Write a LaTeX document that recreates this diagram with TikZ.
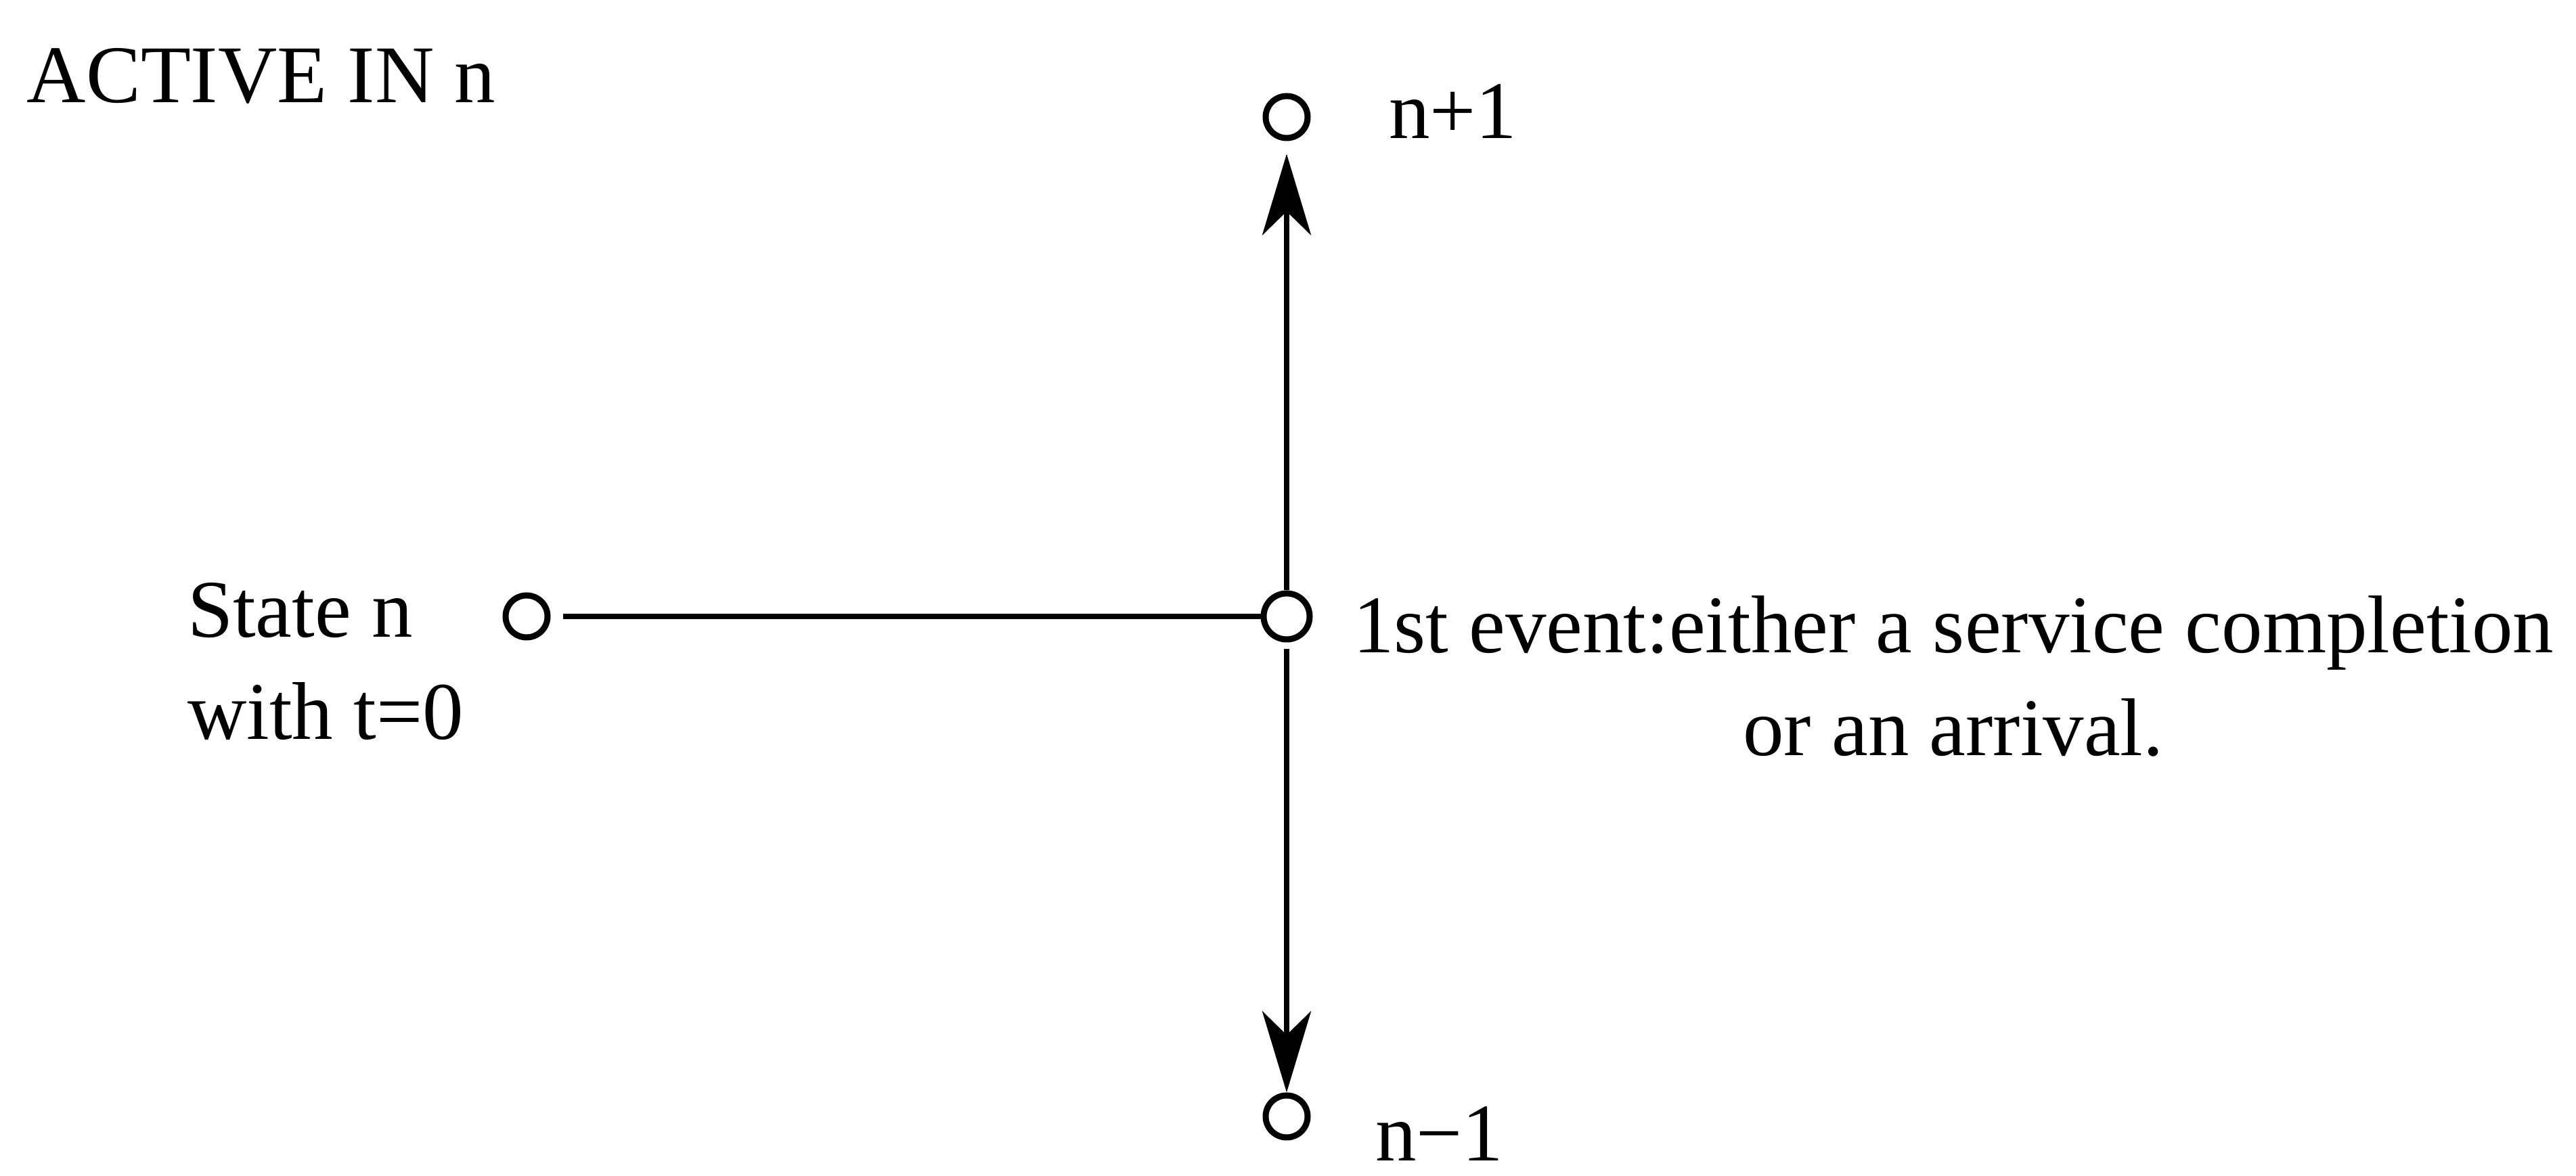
\documentclass[tikz,border=0pt]{standalone}
\usepackage{fontspec}
\setmainfont{Liberation Serif}
\usetikzlibrary{arrows.meta,positioning}

\tikzset{
  state/.style={circle, draw, line width=0.9pt, inner sep=0pt, minimum size=6.2pt},
  txt/.style={inner sep=0pt, anchor=base west, font=\fontsize{12.1}{15}\selectfont},
  move/.style={-{Stealth[length=12pt,width=7.2pt,inset=3.5pt]}, line width=0.8pt},
}

\begin{document}
\begin{tikzpicture}[x=1pt,y=1pt]
    \useasboundingbox (0,0) rectangle (380.6,173.8);

    % Title
    \node[txt] (title) at (3.8,158.6) {ACTIVE IN n};

    % States
    \node[state] (start) at (77.8,82.7) {};
    \node[state, minimum size=6.8pt] (first) at (190.1,82.7) {};
    \node[state] (up) at (190.1,156.5) {};
    \node[state] (down) at (190.1,8.8) {};

    % Labels
    \node[txt] (startlbl) at (27.5,79.6) {State n};
    \node[txt] (timelbl) at (27.5,64.5) {with t=0};
    \node[txt] (event) at (199.7,77.3) {1st event:either a service completion};
    \node[txt, anchor=base] (arrival) at ([yshift=-15.2pt]event.base) {or an arrival.};
    \node[txt] (uplbl) at (205,153.3) {n+1};
    \node[txt] (downlbl) at (203,2.2) {n−1};

    % Transitions
    \draw[line width=0.8pt, shorten <=1.8pt] (start) -- (first);
    \draw[move, shorten >=1.9pt] (first) -- (up);
    \draw[move, shorten <=1pt] (first) -- (down);
\end{tikzpicture}
\end{document}
